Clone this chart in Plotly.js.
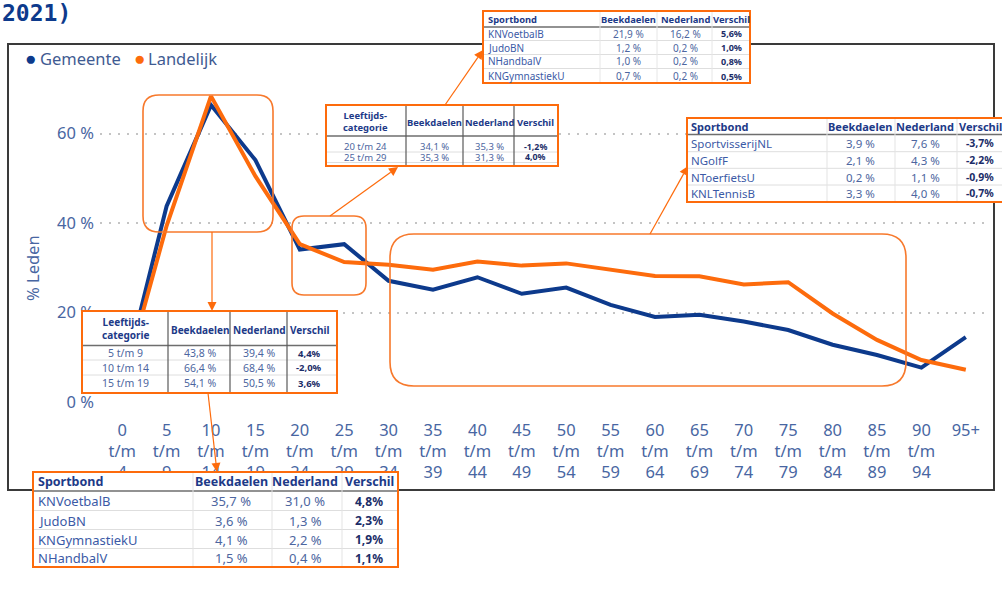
<!DOCTYPE html>
<html>
<head>
<meta charset="utf-8">
<script src="https://cdn.plot.ly/plotly-3.0.1.min.js"></script>
<style>html,body{margin:0;padding:0;background:#fff;}</style>
</head>
<body>
<div id="chart" style="width:1002px;height:590px;"></div>
<script>
// ---------- data ----------
const ageGroups = ['0 t/m 4','5 t/m 9','10 t/m 14','15 t/m 19','20 t/m 24','25 t/m 29','30 t/m 34','35 t/m 39','40 t/m 44','45 t/m 49','50 t/m 54','55 t/m 59','60 t/m 64','65 t/m 69','70 t/m 74','75 t/m 79','80 t/m 84','85 t/m 89','90 t/m 94','95+'];
const gemeente  = [4.0, 43.8, 66.4, 54.1, 34.1, 35.3, 27.1, 25.1, 27.9, 24.2, 25.6, 21.7, 19.0, 19.5, 18.0, 16.1, 12.8, 10.5, 7.7, 14.5];
const landelijk = [3.4, 39.4, 68.4, 50.5, 35.3, 31.3, 30.7, 29.6, 31.4, 30.5, 31.0, 29.6, 28.2, 28.1, 26.3, 26.8, 19.8, 13.9, 9.4, 7.2];
const yTicks = [0, 20, 40, 60];
const yTickText = ['0 %', '20 %', '40 %', '60 %'];
const yTitle = '% Leden';
const seriesNames = ['Gemeente', 'Landelijk'];
const pageTitle = '2021)';

const headerSport = ['Sportbond', 'Beekdaelen', 'Nederland', 'Verschil'];
const headerAge   = ['Leeftijds-<br>categorie', 'Beekdaelen', 'Nederland', 'Verschil'];

// table: sports 20-29 (top)
const sport2029 = ['KNVoetbalB', 'JudoBN', 'NHandbalV', 'KNGymnastiekU'];
const sport2029Beek = ['21,9 %', '1,2 %', '1,0 %', '0,7 %'];
const sport2029Ned  = ['16,2 %', '0,2 %', '0,2 %', '0,2 %'];
const sport2029Dif  = ['5,6%', '1,0%', '0,8%', '0,5%'];
// table: ages 20-29
const age2029 = ['20 t/m 24', '25 t/m 29'];
const age2029Beek = ['34,1 %', '35,3 %'];
const age2029Ned  = ['35,3 %', '31,3 %'];
const age2029Dif  = ['-1,2%', '4,0%'];
// table: ages 5-19
const age519 = ['5 t/m 9', '10 t/m 14', '15 t/m 19'];
const age519Beek = ['43,8 %', '66,4 %', '54,1 %'];
const age519Ned  = ['39,4 %', '68,4 %', '50,5 %'];
const age519Dif  = ['4,4%', '-2,0%', '3,6%'];
// table: sports 5-19 (bottom)
const sport519 = ['KNVoetbalB', 'JudoBN', 'KNGymnastiekU', 'NHandbalV'];
const sport519Beek = ['35,7 %', '3,6 %', '4,1 %', '1,5 %'];
const sport519Ned  = ['31,0 %', '1,3 %', '2,2 %', '0,4 %'];
const sport519Dif  = ['4,8%', '2,3%', '1,9%', '1,1%'];
// table: sports 30+ (right)
const sportOud = ['SportvisserijNL', 'NGolfF', 'NToerfietsU', 'KNLTennisB'];
const sportOudBeek = ['3,9 %', '2,1 %', '0,2 %', '3,3 %'];
const sportOudNed  = ['7,6 %', '4,3 %', '1,1 %', '4,0 %'];
const sportOudDif  = ['-3,7%', '-2,2%', '-0,9%', '-0,7%'];

// ---------- styling ----------
const FONT = 'Noto Sans, Open Sans, sans-serif';
const BLUE = '#0d3a8c';
const ORANGE = '#fd6b0c';
const BOX = '#f7792c';
const AXISTXT = '#4866a2';
const HEADTXT = '#1d3a88';
const NAMETXT = '#3b5aa6';
const NUMTXT = '#4d66a0';
const DIFTXT = '#1b2d68';

const L = 100, T = 89, W = 888, H = 313;
const X = p => (p - L) / W;
const Y = p => (T + H - p) / H;
const P = (x, y) => X(x).toFixed(5) + ',' + Y(y).toFixed(5);

const shapes = [];
const annotations = [];

function rect(x0, y0, x1, y1, line, fill) {
  shapes.push({type: 'rect', xref: 'paper', yref: 'paper', layer: 'above',
    x0: X(x0), x1: X(x1), y0: Y(y1), y1: Y(y0), line: line, fillcolor: fill || 'rgba(0,0,0,0)'});
}
function seg(x0, y0, x1, y1, color, width) {
  shapes.push({type: 'line', xref: 'paper', yref: 'paper', layer: 'above',
    x0: X(x0), y0: Y(y0), x1: X(x1), y1: Y(y1), line: {color: color, width: width}});
}
function roundRect(x0, y0, x1, y1, r, color, width) {
  const d = 'M' + P(x0 + r, y0) + ' L' + P(x1 - r, y0) + ' Q' + P(x1, y0) + ' ' + P(x1, y0 + r) +
    ' L' + P(x1, y1 - r) + ' Q' + P(x1, y1) + ' ' + P(x1 - r, y1) +
    ' L' + P(x0 + r, y1) + ' Q' + P(x0, y1) + ' ' + P(x0, y1 - r) +
    ' L' + P(x0, y0 + r) + ' Q' + P(x0, y0) + ' ' + P(x0 + r, y0) + ' Z';
  shapes.push({type: 'path', xref: 'paper', yref: 'paper', layer: 'above', path: d,
    line: {color: color, width: width}, fillcolor: 'rgba(0,0,0,0)'});
}
function arrow(x0, y0, x1, y1) {
  const dx = x1 - x0, dy = y1 - y0, len = Math.hypot(dx, dy);
  const ux = dx / len, uy = dy / len;
  const bx = x1 - ux * 9, by = y1 - uy * 9;
  seg(x0, y0, bx, by, ORANGE, 1.2);
  const nx = -uy * 4.5, ny = ux * 4.5;
  shapes.push({type: 'path', xref: 'paper', yref: 'paper', layer: 'above',
    path: 'M' + P(x1, y1) + ' L' + P(bx + nx, by + ny) + ' L' + P(bx - nx, by - ny) + ' Z',
    line: {width: 0}, fillcolor: ORANGE});
}
function txt(text, x, y, anchor, size, color, bold, family, angle) {
  annotations.push({xref: 'paper', yref: 'paper', x: X(x), y: Y(y), xanchor: anchor, yanchor: 'middle',
    text: bold ? '<b>' + text + '</b>' : text, showarrow: false, borderpad: 0, textangle: angle || 0,
    font: {family: family || FONT, size: size, color: color}});
}

function table(t) {
  rect(t.x0, t.y0, t.x1, t.y1, {width: 0}, '#ffffff');
  t.rowLines.forEach(y => seg(t.x0, y, t.x1, y, '#dedede', 1));
  seg(t.x0, t.headLine, t.x1, t.headLine, '#6e6e6e', 1.6);
  t.colEdges.forEach(x => seg(x, t.y0, x, t.y1, t.vColor, t.vWidth));
  rect(t.x0, t.y0, t.x1, t.y1, {color: ORANGE, width: 2});
  t.header.forEach((h, i) => {
    if (i === 0 && t.col0Left) txt(h, t.col0X, t.headY0, 'left', t.hSize, HEADTXT, true);
    else if (i === 0) txt(h, t.col0X, t.headY0, 'center', t.hSize, HEADTXT, true);
    else txt(h, t.centers[i - 1], t.headY, 'center', t.hSize, HEADTXT, true);
  });
  t.rows.forEach((y, r) => {
    txt(t.c0[r], t.col0X, y, t.col0Left ? 'left' : 'center', t.size, t.col0Left ? NAMETXT : NUMTXT, false);
    txt(t.c1[r], t.centers[0], y, 'center', t.size, NUMTXT, false);
    txt(t.c2[r], t.centers[1], y, 'center', t.size, NUMTXT, false);
    txt(t.c3[r], t.centers[2], y, 'center', t.dSize, DIFTXT, true);
  });
}

// outer frame
rect(8, 44, 994, 490, {color: '#3a3a3a', width: 2});

// highlight boxes
roundRect(143, 95, 273, 232, 16, BOX, 1.6);
roundRect(292, 216, 366, 295, 12, BOX, 1.6);
roundRect(390, 234, 906, 386, 24, BOX, 1.6);

// connectors
arrow(212, 232, 212, 311);
arrow(208, 393, 217, 472);
arrow(330, 216, 398, 167);
arrow(445, 105, 483, 50);
arrow(650, 234, 688, 166);

// tables
table({x0: 483, y0: 11, x1: 750, y1: 83, headLine: 27, rowLines: [40.5, 54.5, 68.5],
  colEdges: [600, 657, 712], vColor: '#e6e6e6', vWidth: 1,
  header: headerSport, col0Left: true, col0X: 487, headY0: 19.5, headY: 19.5, centers: [628, 685, 731],
  rows: [33.5, 47.5, 61.5, 76], c0: sport2029, c1: sport2029Beek, c2: sport2029Ned, c3: sport2029Dif,
  size: 10, hSize: 9.4, dSize: 9});

table({x0: 326, y0: 105, x1: 558, y1: 166, headLine: 136, rowLines: [152, 162.5],
  colEdges: [406, 463, 514], vColor: '#5a5a5a', vWidth: 1.2,
  header: headerAge, col0Left: false, col0X: 365, headY0: 121.5, headY: 122.5, centers: [434, 489, 535],
  rows: [146.8, 157.4], c0: age2029, c1: age2029Beek, c2: age2029Ned, c3: age2029Dif,
  size: 9.5, hSize: 9.4, dSize: 8.8});

table({x0: 82, y0: 311, x1: 337, y1: 393, headLine: 345.5, rowLines: [360, 375],
  colEdges: [168, 230, 287], vColor: '#5a5a5a', vWidth: 1.2,
  header: headerAge, col0Left: false, col0X: 125, headY0: 328.5, headY: 330, centers: [200, 259, 309],
  rows: [353, 367.5, 383], c0: age519, c1: age519Beek, c2: age519Ned, c3: age519Dif,
  size: 10.5, hSize: 10, dSize: 9.5});

table({x0: 33, y0: 472, x1: 398, y1: 567, headLine: 491, rowLines: [510.5, 529.5, 548.5],
  colEdges: [193, 272, 342], vColor: '#e3e3e3', vWidth: 1,
  header: headerSport, col0Left: true, col0X: 37, headY0: 481.5, headY: 481.5, centers: [231, 305, 369],
  rows: [501, 520.5, 539.5, 558], c0: sport519, c1: sport519Beek, c2: sport519Ned, c3: sport519Dif,
  size: 13, hSize: 12.5, dSize: 12});

table({x0: 687, y0: 118, x1: 1012, y1: 202, headLine: 134.5, rowLines: [151.7, 168.3, 185],
  colEdges: [827, 895, 957], vColor: '#e3e3e3', vWidth: 1,
  header: headerSport, col0Left: true, col0X: 690, headY0: 126.5, headY: 126.5, centers: [860, 925, 980],
  rows: [143, 160, 177, 193], c0: sportOud, c1: sportOudBeek, c2: sportOudNed, c3: sportOudDif,
  size: 11.5, hSize: 11, dSize: 10.5});

// legend (as text)
txt('●', 30, 58.5, 'center', 19, BLUE, false);
txt(seriesNames[0], 39, 58.5, 'left', 16.5, '#3f5b92', false);
txt('●', 139, 58.5, 'center', 19, ORANGE, false);
txt(seriesNames[1], 147, 58.5, 'left', 16.5, '#3f5b92', false);

// y-axis title
txt(yTitle, 32, 268, 'center', 16.5, AXISTXT, false, FONT, -90);

// page title fragment
txt(pageTitle, 1, 12.5, 'left', 23, BLUE, true, 'DejaVu Sans Mono, monospace');

const traces = [
  {type: 'scatter', mode: 'lines', name: seriesNames[0], x: ageGroups, y: gemeente,
   line: {color: BLUE, width: 4}, hoverinfo: 'x+y'},
  {type: 'scatter', mode: 'lines', name: seriesNames[1], x: ageGroups, y: landelijk,
   line: {color: ORANGE, width: 4}, hoverinfo: 'x+y'}
];

const layout = {
  width: 1002, height: 590,
  margin: {l: L, r: 1002 - L - W, t: T, b: 590 - T - H, pad: 0},
  paper_bgcolor: '#ffffff', plot_bgcolor: '#ffffff',
  showlegend: false,
  xaxis: {type: 'category', range: [-0.5, ageGroups.length - 0.5],
    tickvals: ageGroups, ticktext: ageGroups.map(s => s.replace(/ /g, '<br>')),
    showgrid: false, zeroline: false, showline: false, ticks: '',
    tickfont: {family: FONT, size: 16.5, color: AXISTXT}, ticklabelstandoff: 16, automargin: false},
  yaxis: {range: [0, 70], tickvals: yTicks, ticktext: yTickText,
    showgrid: true, gridcolor: '#c4c4c4', gridwidth: 2, griddash: '2px,7px',
    zeroline: false, showline: false, ticks: '',
    tickfont: {family: FONT, size: 16.5, color: AXISTXT}, ticklabelstandoff: 5, automargin: false},
  shapes: shapes,
  annotations: annotations
};

Plotly.newPlot('chart', traces, layout, {displayModeBar: false, staticPlot: true});
</script>
</body>
</html>
